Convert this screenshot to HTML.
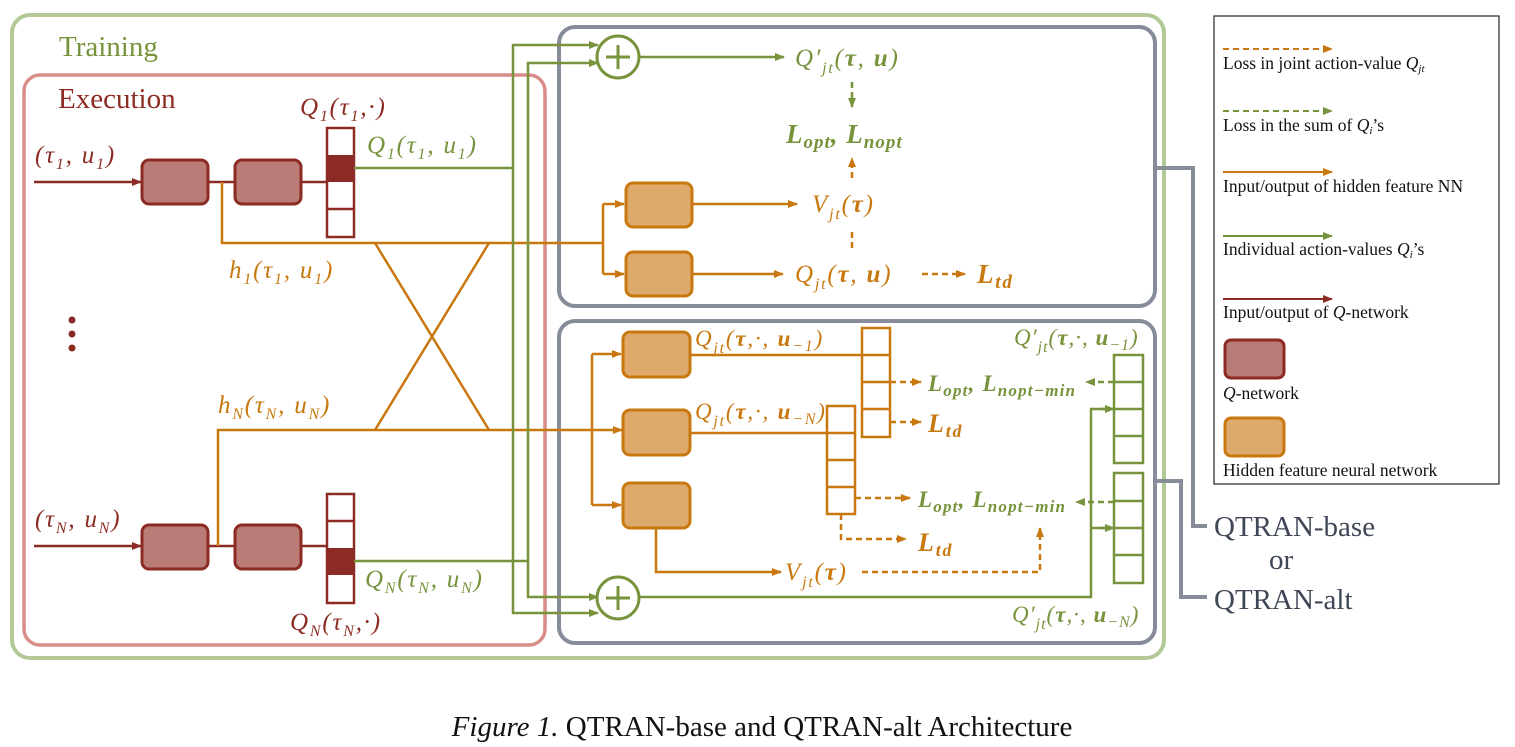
<!DOCTYPE html>
<html><head><meta charset="utf-8"><style>
html,body{margin:0;padding:0;background:#fff;}
svg{display:block;}
text{font-family:"Liberation Serif",serif;}
.m{font-style:italic;font-size:25px;letter-spacing:1.8px;}
.b{font-weight:bold;}
</style></head><body>
<svg width="1515" height="747" viewBox="0 0 1515 747" xmlns="http://www.w3.org/2000/svg">
<defs>
<marker id="ag" markerUnits="userSpaceOnUse" markerWidth="10" markerHeight="10" refX="9" refY="5" orient="auto"><path d="M0,1 L10,5 L0,9z" fill="#77933c"/></marker>
<marker id="ao" markerUnits="userSpaceOnUse" markerWidth="10" markerHeight="10" refX="9" refY="5" orient="auto"><path d="M0,1 L10,5 L0,9z" fill="#c8780f"/></marker>
<marker id="ar" markerUnits="userSpaceOnUse" markerWidth="10" markerHeight="10" refX="9" refY="5" orient="auto"><path d="M0,1 L10,5 L0,9z" fill="#8c2b23"/></marker>
</defs>

<rect x="12" y="15" width="1152" height="643" rx="18" fill="none" stroke="#b3c995" stroke-width="4"/>
<rect x="24" y="75" width="521" height="570" rx="16" fill="none" stroke="#d98c88" stroke-width="3.5"/>
<rect x="559" y="27" width="596" height="279" rx="16" fill="none" stroke="#868c99" stroke-width="4"/>
<rect x="559" y="321" width="596" height="322" rx="16" fill="none" stroke="#868c99" stroke-width="4"/>

<text x="59" y="56" font-size="29" fill="#77933c">Training</text>
<text x="58" y="108" font-size="29" fill="#8c2b23">Execution</text>

<!-- agent 1 -->
<line x1="34" y1="182" x2="141" y2="182" stroke="#8c2b23" stroke-width="2.5" marker-end="url(#ar)"/>
<text x="35" y="163" class="m" fill="#8c2b23">(τ<tspan font-size="16" dy="6">1</tspan><tspan dy="-6">, u</tspan><tspan font-size="16" dy="6">1</tspan><tspan dy="-6">)</tspan></text>
<rect x="142" y="160" width="66" height="44" rx="7" fill="#b97c77" stroke="#8c2b23" stroke-width="3"/>
<rect x="235" y="160" width="66" height="44" rx="7" fill="#b97c77" stroke="#8c2b23" stroke-width="3"/>
<line x1="208" y1="182" x2="235" y2="182" stroke="#8c2b23" stroke-width="2.5"/>
<line x1="301" y1="182" x2="327" y2="182" stroke="#8c2b23" stroke-width="2.5"/>
<rect x="327" y="128" width="27" height="109" fill="#fff" stroke="#8c2b23" stroke-width="2.5"/>
<rect x="327" y="155" width="27" height="27" fill="#8c2b23"/>
<line x1="327" y1="209" x2="354" y2="209" stroke="#8c2b23" stroke-width="2.5"/>
<text x="300" y="115" class="m" fill="#8c2b23">Q<tspan font-size="16" dy="6">1</tspan><tspan dy="-6">(τ</tspan><tspan font-size="16" dy="6">1</tspan><tspan dy="-6">,·)</tspan></text>
<text x="367" y="153" class="m" fill="#77933c">Q<tspan font-size="16" dy="6">1</tspan><tspan dy="-6">(τ</tspan><tspan font-size="16" dy="6">1</tspan><tspan dy="-6">, u</tspan><tspan font-size="16" dy="6">1</tspan><tspan dy="-6">)</tspan></text>
<text x="229" y="278" class="m" fill="#c8780f">h<tspan font-size="16" dy="6">1</tspan><tspan dy="-6">(τ</tspan><tspan font-size="16" dy="6">1</tspan><tspan dy="-6">, u</tspan><tspan font-size="16" dy="6">1</tspan><tspan dy="-6">)</tspan></text>

<circle cx="72" cy="320" r="3.5" fill="#8c2b23"/><circle cx="72" cy="334" r="3.5" fill="#8c2b23"/><circle cx="72" cy="348" r="3.5" fill="#8c2b23"/>

<!-- agent N -->
<line x1="34" y1="546" x2="141" y2="546" stroke="#8c2b23" stroke-width="2.5" marker-end="url(#ar)"/>
<text x="35" y="527" class="m" fill="#8c2b23">(τ<tspan font-size="16" dy="6">N</tspan><tspan dy="-6">, u</tspan><tspan font-size="16" dy="6">N</tspan><tspan dy="-6">)</tspan></text>
<rect x="142" y="525" width="66" height="44" rx="7" fill="#b97c77" stroke="#8c2b23" stroke-width="3"/>
<rect x="235" y="525" width="66" height="44" rx="7" fill="#b97c77" stroke="#8c2b23" stroke-width="3"/>
<line x1="208" y1="546" x2="235" y2="546" stroke="#8c2b23" stroke-width="2.5"/>
<line x1="301" y1="546" x2="327" y2="546" stroke="#8c2b23" stroke-width="2.5"/>
<rect x="327" y="494" width="27" height="109" fill="#fff" stroke="#8c2b23" stroke-width="2.5"/>
<line x1="327" y1="521" x2="354" y2="521" stroke="#8c2b23" stroke-width="2.5"/>
<rect x="327" y="548" width="27" height="27" fill="#8c2b23"/>
<text x="290" y="630" class="m" fill="#8c2b23">Q<tspan font-size="16" dy="6">N</tspan><tspan dy="-6">(τ</tspan><tspan font-size="16" dy="6">N</tspan><tspan dy="-6">,·)</tspan></text>
<text x="365" y="587" class="m" fill="#77933c">Q<tspan font-size="16" dy="6">N</tspan><tspan dy="-6">(τ</tspan><tspan font-size="16" dy="6">N</tspan><tspan dy="-6">, u</tspan><tspan font-size="16" dy="6">N</tspan><tspan dy="-6">)</tspan></text>
<text x="218" y="413" class="m" fill="#c8780f">h<tspan font-size="16" dy="6">N</tspan><tspan dy="-6">(τ</tspan><tspan font-size="16" dy="6">N</tspan><tspan dy="-6">, u</tspan><tspan font-size="16" dy="6">N</tspan><tspan dy="-6">)</tspan></text>

<g stroke="#c8780f" stroke-width="2.5" fill="none">
<polyline points="222,182 222,243 603,243"/>
<line x1="375" y1="243" x2="489" y2="430"/>
<line x1="489" y1="243" x2="375" y2="430"/>
<polyline points="218,546 218,430 622,430" marker-end="url(#ao)"/>
<polyline points="603,204 603,274"/>
<line x1="603" y1="204" x2="624" y2="204" marker-end="url(#ao)"/>
<line x1="603" y1="274" x2="624" y2="274" marker-end="url(#ao)"/>
<polyline points="592,354 592,505"/>
<line x1="592" y1="354" x2="621" y2="354" marker-end="url(#ao)"/>
<line x1="592" y1="505" x2="621" y2="505" marker-end="url(#ao)"/>
</g>

<g stroke="#77933c" stroke-width="2.5" fill="none">
<polyline points="354,168 513,168"/>
<polyline points="354,561 528,561"/>
<polyline points="596,45 513,45 513,613 596,613" />
<polyline points="596,63 528,63 528,597 596,597"/>
</g>
<line x1="590" y1="45" x2="598" y2="45" stroke="#77933c" stroke-width="2.5" marker-end="url(#ag)"/>
<line x1="590" y1="63" x2="598" y2="63" stroke="#77933c" stroke-width="2.5" marker-end="url(#ag)"/>
<line x1="590" y1="597" x2="598" y2="597" stroke="#77933c" stroke-width="2.5" marker-end="url(#ag)"/>
<line x1="590" y1="613" x2="598" y2="613" stroke="#77933c" stroke-width="2.5" marker-end="url(#ag)"/>

<!-- top block -->
<circle cx="618" cy="57" r="21" fill="#fff" stroke="#77933c" stroke-width="3"/>
<path d="M618,45 V69 M606,57 H630" stroke="#77933c" stroke-width="3"/>
<line x1="639" y1="57" x2="784" y2="57" stroke="#77933c" stroke-width="2.5" marker-end="url(#ag)"/>
<text x="795" y="66" class="m" fill="#77933c">Q′<tspan font-size="16" dy="7">jt</tspan><tspan dy="-7">(</tspan><tspan class="b">τ</tspan>, <tspan class="b">u</tspan>)</text>
<line x1="852" y1="82" x2="852" y2="107" stroke="#77933c" stroke-width="2.5" stroke-dasharray="6,4" marker-end="url(#ag)"/>
<text x="786" y="143" class="m b" style="font-size:27px;letter-spacing:1px" fill="#77933c">L<tspan font-size="19" dy="5">opt</tspan><tspan dy="-5">, L</tspan><tspan font-size="19" dy="5">nopt</tspan></text>
<rect x="626" y="183" width="66" height="44" rx="7" fill="#ddaa6b" stroke="#c8780f" stroke-width="3"/>
<rect x="626" y="252" width="66" height="44" rx="7" fill="#ddaa6b" stroke="#c8780f" stroke-width="3"/>
<line x1="692" y1="204" x2="797" y2="204" stroke="#c8780f" stroke-width="2.5" marker-end="url(#ao)"/>
<line x1="692" y1="274" x2="783" y2="274" stroke="#c8780f" stroke-width="2.5" marker-end="url(#ao)"/>
<text x="812" y="212" class="m" fill="#c8780f">V<tspan font-size="16" dy="7">jt</tspan><tspan dy="-7">(</tspan><tspan class="b">τ</tspan>)</text>
<text x="795" y="282" class="m" fill="#c8780f">Q<tspan font-size="16" dy="7">jt</tspan><tspan dy="-7">(</tspan><tspan class="b">τ</tspan>, <tspan class="b">u</tspan>)</text>
<line x1="852" y1="248" x2="852" y2="228" stroke="#c8780f" stroke-width="2.5" stroke-dasharray="6,4"/>
<line x1="852" y1="178" x2="852" y2="158" stroke="#c8780f" stroke-width="2.5" stroke-dasharray="6,4" marker-end="url(#ao)"/>
<line x1="922" y1="274" x2="965" y2="274" stroke="#c8780f" stroke-width="2.5" stroke-dasharray="6,4" marker-end="url(#ao)"/>
<text x="977" y="283" class="m b" style="font-size:27px" fill="#c8780f">L<tspan font-size="19" dy="5">td</tspan></text>

<!-- bottom block -->
<rect x="623" y="332" width="67" height="45" rx="7" fill="#ddaa6b" stroke="#c8780f" stroke-width="3"/>
<rect x="623" y="410" width="67" height="45" rx="7" fill="#ddaa6b" stroke="#c8780f" stroke-width="3"/>
<rect x="623" y="483" width="67" height="45" rx="7" fill="#ddaa6b" stroke="#c8780f" stroke-width="3"/>
<g stroke="#c8780f" stroke-width="2.5" fill="none">
<line x1="690" y1="355" x2="862" y2="355"/>
<line x1="690" y1="433" x2="827" y2="433"/>
<rect x="862" y="328" width="28" height="109" fill="#fff"/>
<line x1="862" y1="355" x2="890" y2="355"/><line x1="862" y1="382" x2="890" y2="382"/><line x1="862" y1="409" x2="890" y2="409"/>
<rect x="827" y="406" width="28" height="108" fill="#fff"/>
<line x1="827" y1="433" x2="855" y2="433"/><line x1="827" y1="460" x2="855" y2="460"/><line x1="827" y1="487" x2="855" y2="487"/>
<polyline points="656,528 656,572 780,572"/>
</g>
<line x1="770" y1="572" x2="781" y2="572" stroke="#c8780f" stroke-width="2.5" marker-end="url(#ao)"/>
<g stroke="#c8780f" stroke-width="2.5" fill="none" stroke-dasharray="6,4">
<line x1="890" y1="382" x2="921" y2="382" marker-end="url(#ao)"/>
<line x1="890" y1="422" x2="921" y2="422" marker-end="url(#ao)"/>
<line x1="855" y1="498" x2="910" y2="498" marker-end="url(#ao)"/>
<polyline points="841,514 841,539 906,539" marker-end="url(#ao)"/>
<polyline points="862,572 1040,572 1040,528" marker-end="url(#ao)"/>
</g>
<text x="695" y="346" class="m" style="font-size:23px" fill="#c8780f">Q<tspan font-size="16" dy="7">jt</tspan><tspan dy="-7">(</tspan><tspan class="b">τ</tspan>,·, <tspan class="b">u</tspan><tspan font-size="16" dy="5">−1</tspan><tspan dy="-5">)</tspan></text>
<text x="695" y="419" class="m" style="font-size:23px" fill="#c8780f">Q<tspan font-size="16" dy="7">jt</tspan><tspan dy="-7">(</tspan><tspan class="b">τ</tspan>,·, <tspan class="b">u</tspan><tspan font-size="16" dy="5">−N</tspan><tspan dy="-5">)</tspan></text>
<text x="785" y="580" class="m" fill="#c8780f">V<tspan font-size="16" dy="7">jt</tspan><tspan dy="-7">(</tspan><tspan class="b">τ</tspan>)</text>
<text x="928" y="432" class="m b" style="font-size:26px" fill="#c8780f">L<tspan font-size="18" dy="5">td</tspan></text>
<text x="918" y="551" class="m b" style="font-size:26px" fill="#c8780f">L<tspan font-size="18" dy="5">td</tspan></text>
<text x="928" y="391" class="m b" style="font-size:23px;letter-spacing:1.2px" fill="#77933c">L<tspan font-size="17" dy="5">opt</tspan><tspan dy="-5">, L</tspan><tspan font-size="17" dy="5">nopt−min</tspan></text>
<text x="918" y="507" class="m b" style="font-size:23px;letter-spacing:1.2px" fill="#77933c">L<tspan font-size="17" dy="5">opt</tspan><tspan dy="-5">, L</tspan><tspan font-size="17" dy="5">nopt−min</tspan></text>

<circle cx="618" cy="598" r="21" fill="#fff" stroke="#77933c" stroke-width="3"/>
<path d="M618,586 V610 M606,598 H630" stroke="#77933c" stroke-width="3"/>
<g stroke="#77933c" stroke-width="2.5" fill="none">
<polyline points="639,597 1091,597 1091,409 1113,409"/>
<line x1="1091" y1="528" x2="1113" y2="528"/>
<rect x="1114" y="355" width="29" height="108" fill="#fff"/>
<line x1="1114" y1="382" x2="1143" y2="382"/><line x1="1114" y1="409" x2="1143" y2="409"/><line x1="1114" y1="436" x2="1143" y2="436"/>
<rect x="1114" y="473" width="29" height="110" fill="#fff"/>
<line x1="1114" y1="501" x2="1143" y2="501"/><line x1="1114" y1="528" x2="1143" y2="528"/><line x1="1114" y1="555" x2="1143" y2="555"/>
</g>
<line x1="1100" y1="409" x2="1114" y2="409" stroke="#77933c" stroke-width="2.5" marker-end="url(#ag)"/>
<line x1="1100" y1="528" x2="1114" y2="528" stroke="#77933c" stroke-width="2.5" marker-end="url(#ag)"/>
<line x1="1114" y1="382" x2="1086" y2="382" stroke="#77933c" stroke-width="2.5" stroke-dasharray="6,4" marker-end="url(#ag)"/>
<line x1="1114" y1="502" x2="1076" y2="502" stroke="#77933c" stroke-width="2.5" stroke-dasharray="6,4" marker-end="url(#ag)"/>
<text x="1014" y="345" class="m" style="font-size:23px;letter-spacing:1px" fill="#77933c">Q′<tspan font-size="16" dy="7">jt</tspan><tspan dy="-7">(</tspan><tspan class="b">τ</tspan>,·, <tspan class="b">u</tspan><tspan font-size="16" dy="5">−1</tspan><tspan dy="-5">)</tspan></text>
<text x="1012" y="622" class="m" style="font-size:23px;letter-spacing:1px" fill="#77933c">Q′<tspan font-size="16" dy="7">jt</tspan><tspan dy="-7">(</tspan><tspan class="b">τ</tspan>,·, <tspan class="b">u</tspan><tspan font-size="16" dy="5">−N</tspan><tspan dy="-5">)</tspan></text>

<polyline points="1157,168 1193,168 1193,526 1207,526" fill="none" stroke="#868c99" stroke-width="4"/>
<polyline points="1157,481 1181,481 1181,597 1207,597" fill="none" stroke="#868c99" stroke-width="4"/>
<text x="1214" y="536" font-size="29" fill="#3f4757">QTRAN-base</text>
<text x="1269" y="569" font-size="29" fill="#3f4757">or</text>
<text x="1214" y="609" font-size="29" fill="#3f4757">QTRAN-alt</text>

<rect x="1214" y="16" width="285" height="468" fill="#fff" stroke="#333" stroke-width="1.3"/>
<line x1="1223" y1="49" x2="1332" y2="49" stroke="#c8780f" stroke-width="2" stroke-dasharray="6,4" marker-end="url(#ao)"/>
<line x1="1223" y1="111" x2="1332" y2="111" stroke="#77933c" stroke-width="2" stroke-dasharray="6,4" marker-end="url(#ag)"/>
<line x1="1223" y1="172" x2="1332" y2="172" stroke="#c8780f" stroke-width="2" marker-end="url(#ao)"/>
<line x1="1223" y1="236" x2="1332" y2="236" stroke="#77933c" stroke-width="2" marker-end="url(#ag)"/>
<line x1="1223" y1="299" x2="1332" y2="299" stroke="#8c2b23" stroke-width="2" marker-end="url(#ar)"/>
<g font-size="17.5" fill="#111">
<text x="1223" y="69">Loss in joint action-value <tspan font-style="italic">Q<tspan font-size="11" dy="3">jt</tspan></tspan></text>
<text x="1223" y="131">Loss in the sum of <tspan font-style="italic">Q<tspan font-size="11" dy="3">i</tspan></tspan><tspan dy="-3">’s</tspan></text>
<text x="1223" y="192">Input/output of hidden feature NN</text>
<text x="1223" y="255">Individual action-values <tspan font-style="italic">Q<tspan font-size="11" dy="3">i</tspan></tspan><tspan dy="-3">’s</tspan></text>
<text x="1223" y="318">Input/output of <tspan font-style="italic">Q</tspan>-network</text>
<text x="1223" y="399"><tspan font-style="italic">Q</tspan>-network</text>
<text x="1223" y="476">Hidden feature neural network</text>
</g>
<rect x="1225" y="340" width="59" height="38" rx="6" fill="#b97c77" stroke="#8c2b23" stroke-width="3"/>
<rect x="1225" y="418" width="59" height="38" rx="6" fill="#ddaa6b" stroke="#c8780f" stroke-width="3"/>

<text x="762" y="736" font-size="29" fill="#111" text-anchor="middle"><tspan font-style="italic">Figure 1.</tspan> QTRAN-base and QTRAN-alt Architecture</text>
</svg>
</body></html>
